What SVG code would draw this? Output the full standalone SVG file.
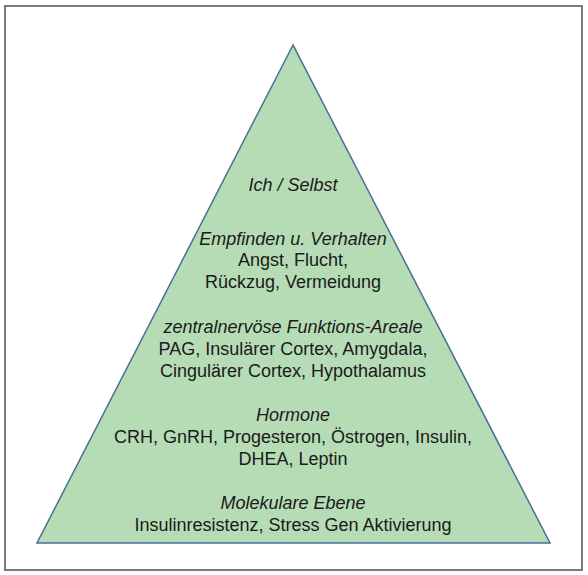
<svg xmlns="http://www.w3.org/2000/svg" width="588" height="575" viewBox="0 0 588 575">
<style>
.t{font-family:"Liberation Sans",Arial,sans-serif;font-size:18px;fill:#1a1a1a;text-anchor:middle}
.i{font-style:italic}
</style>
<rect x="0" y="0" width="588" height="575" fill="#ffffff"/>
<rect id="frame" x="5" y="6" width="577" height="564" fill="none" stroke="#7a7a7a" stroke-width="2"/>
<g id="pyramid">
<polygon points="293,45 37,543 550,543" fill="#b6dcb6" stroke="#4a6f96" stroke-width="1.5" stroke-linejoin="miter"/>
</g>
<g id="level-self">
<text class="t i" x="293" y="191">Ich / Selbst</text>
</g>
<g id="level-behavior">
<text class="t i" x="293" y="245">Empfinden u. Verhalten</text>
<text class="t" x="293" y="266">Angst, Flucht,</text>
<text class="t" x="293" y="288">Rückzug, Vermeidung</text>
</g>
<g id="level-cns">
<text class="t i" x="293" y="333">zentralnervöse Funktions-Areale</text>
<text class="t" x="293" y="355">PAG, Insulärer Cortex, Amygdala,</text>
<text class="t" x="293" y="377">Cingulärer Cortex, Hypothalamus</text>
</g>
<g id="level-hormone">
<text class="t i" x="293" y="421">Hormone</text>
<text class="t" x="293" y="443">CRH, GnRH, Progesteron, Östrogen, Insulin,</text>
<text class="t" x="293" y="465">DHEA, Leptin</text>
</g>
<g id="level-molecular">
<text class="t i" x="293" y="509">Molekulare Ebene</text>
<text class="t" x="293" y="531">Insulinresistenz, Stress Gen Aktivierung</text>
</g>
</svg>
